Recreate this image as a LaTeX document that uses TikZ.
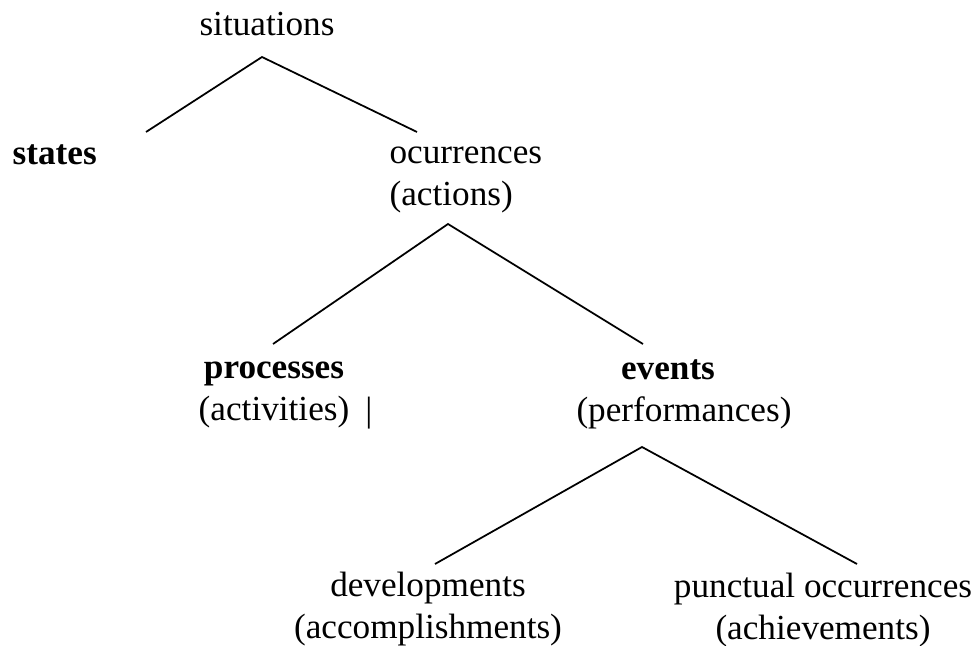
\documentclass[tikz,border=0pt]{standalone}
\usepackage{fontspec}
\setmainfont{Liberation Serif}

\begin{document}
\begin{tikzpicture}[x=0.3125pt, y=-0.3125pt, font={\fontsize{11pt}{13pt}\selectfont},
  cat/.style={inner sep=0pt, anchor=north, align=center},
  branch/.style={line width=0.55pt}]
  \useasboundingbox (0,0) rectangle (976,646);
  \node[cat] (sit) at (267,6) {\strut situations};
  \node[cat, anchor=north west, align=left] (states) at (12,135) {\strut\textbf{states}};
  \node[cat, anchor=north west, align=left] (occ) at (389,134) {\strut ocurrences\\(actions)};
  \node[cat] (proc) at (274,349) {\strut\textbf{processes}\\(activities)};
  \node[inner sep=0pt, anchor=base] (bar) at (369,421) {|};
  \node[cat] (ev) at (684,350) {\strut\textbf{events}\hspace*{10pt}\\(performances)};
  \node[cat] (dev) at (428,567) {\strut developments\\(accomplishments)};
  \node[cat] (punct) at (823,568) {\strut punctual occurrences\\(achievements)};
  \coordinate (sitfork) at (262,57);
  \coordinate (sitL) at (146,132);
  \coordinate (sitR) at (417,132);
  \coordinate (occfork) at (448,224);
  \coordinate (occL) at (273,344);
  \coordinate (occR) at (643,344);
  \coordinate (evfork) at (642,447);
  \coordinate (evL) at (435,564);
  \coordinate (evR) at (857,564);
  \draw[branch] (sitL) -- (sitfork) -- (sitR);
  \draw[branch] (occL) -- (occfork) -- (occR);
  \draw[branch] (evL) -- (evfork) -- (evR);
\end{tikzpicture}
\end{document}
